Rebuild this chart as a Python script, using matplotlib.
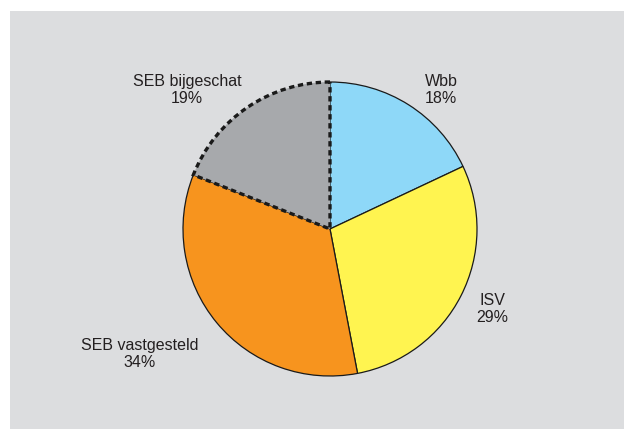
import matplotlib.pyplot as plt
from matplotlib.patches import Rectangle

# aandelen per bron
labels = ['Wbb', 'ISV', 'SEB vastgesteld', 'SEB bijgeschat']
shares = [18, 29, 34, 19]
colors = ['#8ed8f8', '#fff450', '#f7941e', '#a7a9ac']
label_pos = [(441, 339), (492, 120), (140, 75), (187, 339)]

plt.rcParams['font.family'] = ['Liberation Sans', 'DejaVu Sans']

fig = plt.figure(figsize=(6.24, 4.29), dpi=100, facecolor='white')
ax = fig.add_axes([0, 0, 1, 1])

# grijze achtergrond
ax.add_patch(Rectangle((10, 0), 614, 418, facecolor='#dcdddf', edgecolor='none', zorder=0))

wedges, _ = ax.pie(shares, colors=colors, startangle=90, counterclock=False,
                   center=(330, 200), radius=147, frame=True,
                   wedgeprops=dict(edgecolor='#1a1a1a', linewidth=0.9))
ax.set_xlim(0, 624)
ax.set_ylim(0, 429)
ax.set_aspect('equal')
ax.axis('off')

# geschatte deel met stippellijn
est = wedges[3]
est.set_zorder(5)
est.set_linewidth(2.4)
est.set_linestyle((0, (1.6, 1.1)))

for name, share, (x, y) in zip(labels, shares, label_pos):
    ax.text(x, y, f'{name}\n{share}%', ha='center', va='center', fontsize=11.5,
            color='#231f20', linespacing=1.2, zorder=10)

fig.savefig('out.png', dpi=100, facecolor='white')
